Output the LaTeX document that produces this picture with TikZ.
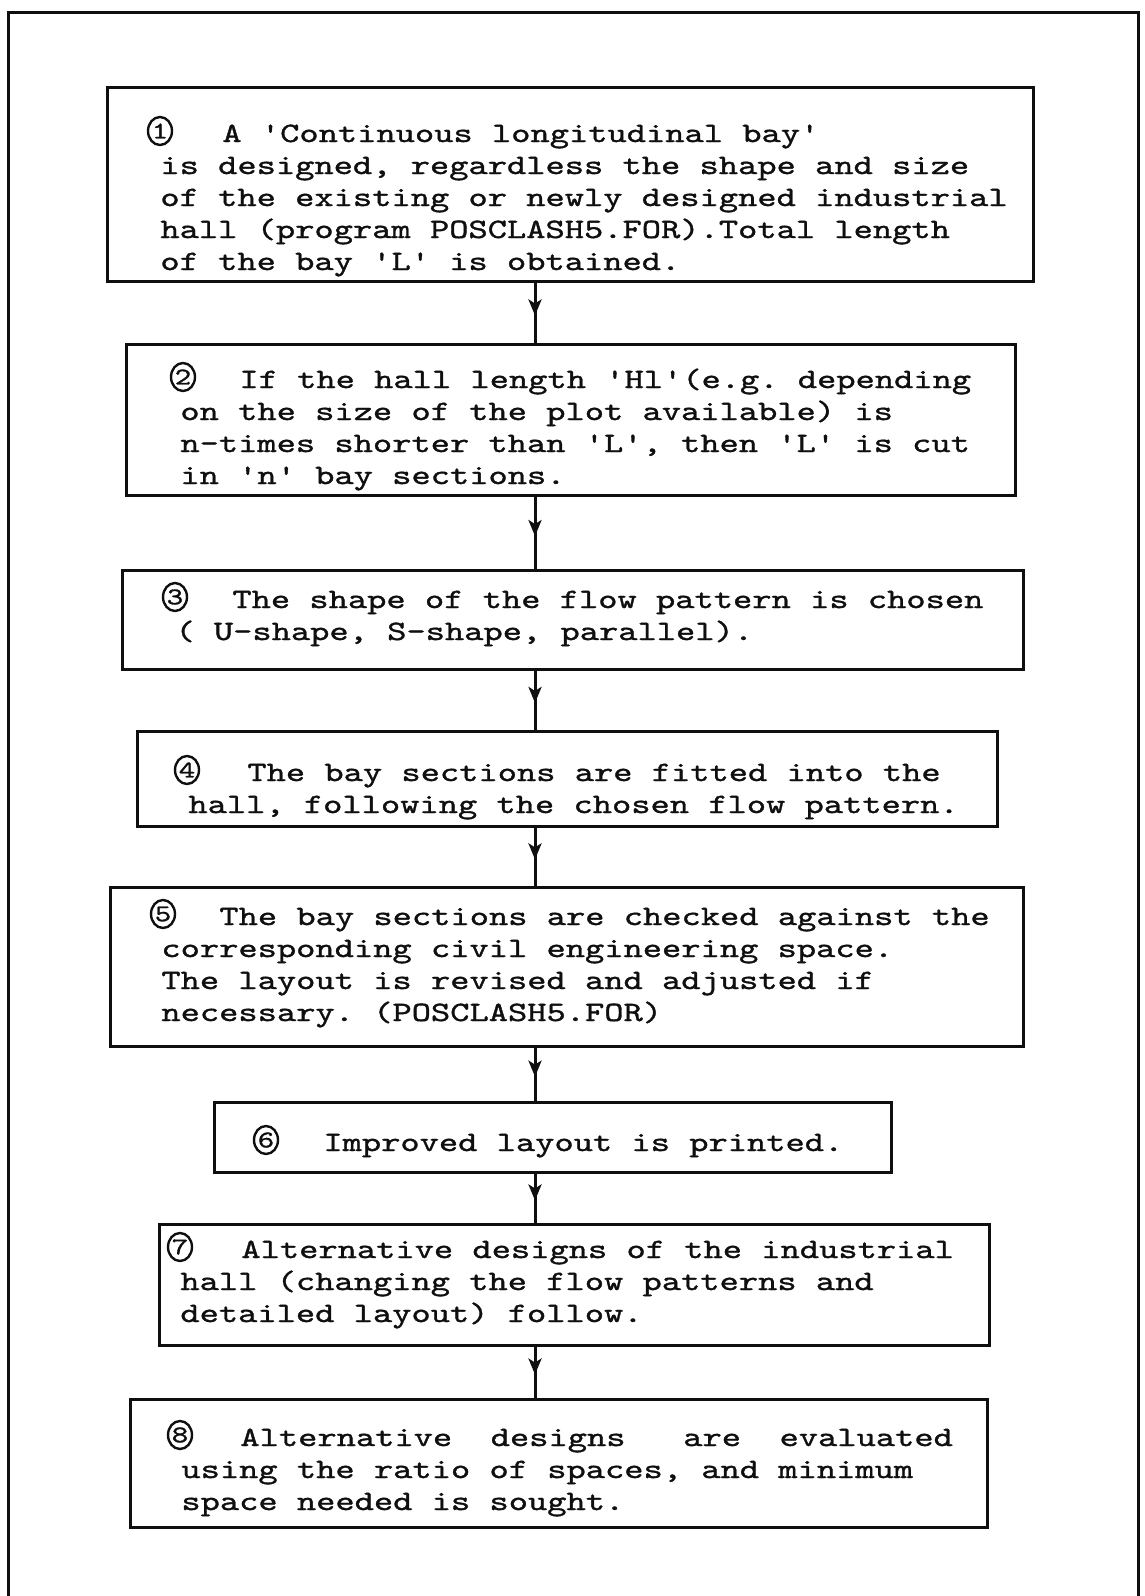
\documentclass[tikz,border=0pt]{standalone}
\usepackage{fontspec}
\usepackage{tikz}
\usetikzlibrary{positioning, arrows.meta, decorations.markings, calc, shapes.geometric}
\definecolor{InkColor}{RGB}{15,15,15}
\newfontfamily\typerface{lmmono10-regular.otf}[FakeStretch=1.31, FakeBold=1.2]
\newcommand\typerfont{\typerface\fontsize{14pt}{16pt}\selectfont}
\newcommand\numfont{\typerface\fontsize{12pt}{12pt}\selectfont}
\tikzstyle{frame} = [line width=1.5pt, InkColor]
\tikzstyle{stepbox} = [rectangle, draw=InkColor, line width=1.5pt, inner sep=0pt]
\tikzstyle{steptext} = [anchor=base west, inner sep=0pt, text width=470pt, align=left, font=\typerfont, text=InkColor,
  execute at begin node={\spaceskip=9.63pt\xspaceskip=9.63pt\relax}]
\tikzstyle{stepnum} = [ellipse, draw=InkColor, line width=1.2pt, minimum width=12pt, minimum height=14pt, inner sep=0pt, font=\numfont, text=InkColor]
\tikzstyle{flow} = [line width=1.5pt, InkColor, postaction={decorate},
  decoration={markings, mark=at position 0.55 with {\arrow{Stealth[length=8pt, width=6.5pt, inset=2pt]}}}]

\begin{document}
\begin{tikzpicture}[x=0.5pt, y=-0.5pt]
  \useasboundingbox (0,0) rectangle (1145,1596);
  % Page frame, open at the bottom
  \draw[frame] (8,1596) -- (8,12) -- (1138,12) -- (1138,1596);

  % Step boxes
  \node[stepbox, minimum width=463pt, minimum height=97pt] (s1) at (570,184) {};
  \node[stepbox, minimum width=444.5pt, minimum height=75.5pt] (s2) at (570.5,419.5) {};
  \node[stepbox, minimum width=450.5pt, minimum height=49.5pt] (s3) at (572.5,619.5) {};
  \node[stepbox, minimum width=430pt, minimum height=47.5pt] (s4) at (567,778.5) {};
  \node[stepbox, minimum width=456.5pt, minimum height=79.5pt] (s5) at (566.5,966.5) {};
  \node[stepbox, minimum width=338.5pt, minimum height=35pt] (s6) at (552.5,1137) {};
  \node[stepbox, minimum width=415pt, minimum height=60.5pt] (s7) at (574,1284.5) {};
  \node[stepbox, minimum width=428.5pt, minimum height=64pt] (s8) at (558.5,1463) {};

  % Step numbers in circles
  \node[stepnum] (n1) at (160,131) {1};
  \node[stepnum] (n2) at (183,377) {2};
  \node[stepnum] (n3) at (175,597) {3};
  \node[stepnum] (n4) at (187,770) {4};
  \node[stepnum] (n5) at (163,914) {5};
  \node[stepnum] (n6) at (266,1140) {6};
  \node[stepnum] (n7) at (180,1247) {7};
  \node[stepnum] (n8) at (180,1435) {8};

  % Typed texts
  \node[steptext] (t1) at (160,142) {\hspace*{31pt}A 'Continuous longitudinal bay'\\
    is designed, regardless the shape and size\\
    of the existing or newly designed industrial\\
    hall (program POSCLASH5.FOR).Total length\\
    of the bay 'L' is obtained.};
  \node[steptext] (t2) at (180,388) {\hspace*{29.5pt}If the hall length 'Hl'(e.g. depending\\
    on the size of the plot available) is\\
    n-times shorter than 'L', then 'L' is cut\\
    in 'n' bay sections.};
  \node[steptext] (t3) at (175,608) {\hspace*{28.5pt}The shape of the flow pattern is chosen\\
    ( U-shape, S-shape, parallel).};
  \node[steptext] (t4) at (188,781) {\hspace*{29.5pt}The bay sections are fitted into the\\
    hall, following the chosen flow pattern.};
  \node[steptext] (t5) at (161,925) {\hspace*{29pt}The bay sections are checked against the\\
    corresponding civil engineering space.\\
    The layout is revised and adjusted if\\
    necessary. (POSCLASH5.FOR)};
  \node[steptext] (t6) at (264,1151) {\hspace*{29.5pt}Improved layout is printed.};
  \node[steptext] (t7) at (180,1258) {\hspace*{30.5pt}Alternative designs of the industrial\\
    hall (changing the flow patterns and\\
    detailed layout) follow.};
  \node[steptext] (t8) at (181,1446) {\hspace*{29.5pt}Alternative~ designs~~ are~ evaluated\\
    using the ratio of spaces, and minimum\\
    space needed is sought.};

  % Connectors
  \coordinate (axis) at (535,0);
  \draw[flow] (s1.south -| axis) -- (s2.north -| axis);
  \draw[flow] (s2.south -| axis) -- (s3.north -| axis);
  \draw[flow] (s3.south -| axis) -- (s4.north -| axis);
  \draw[flow] (s4.south -| axis) -- (s5.north -| axis);
  \draw[flow] (s5.south -| axis) -- (s6.north -| axis);
  \draw[flow] (s6.south -| axis) -- (s7.north -| axis);
  \draw[flow] (s7.south -| axis) -- (s8.north -| axis);
\end{tikzpicture}
\end{document}
